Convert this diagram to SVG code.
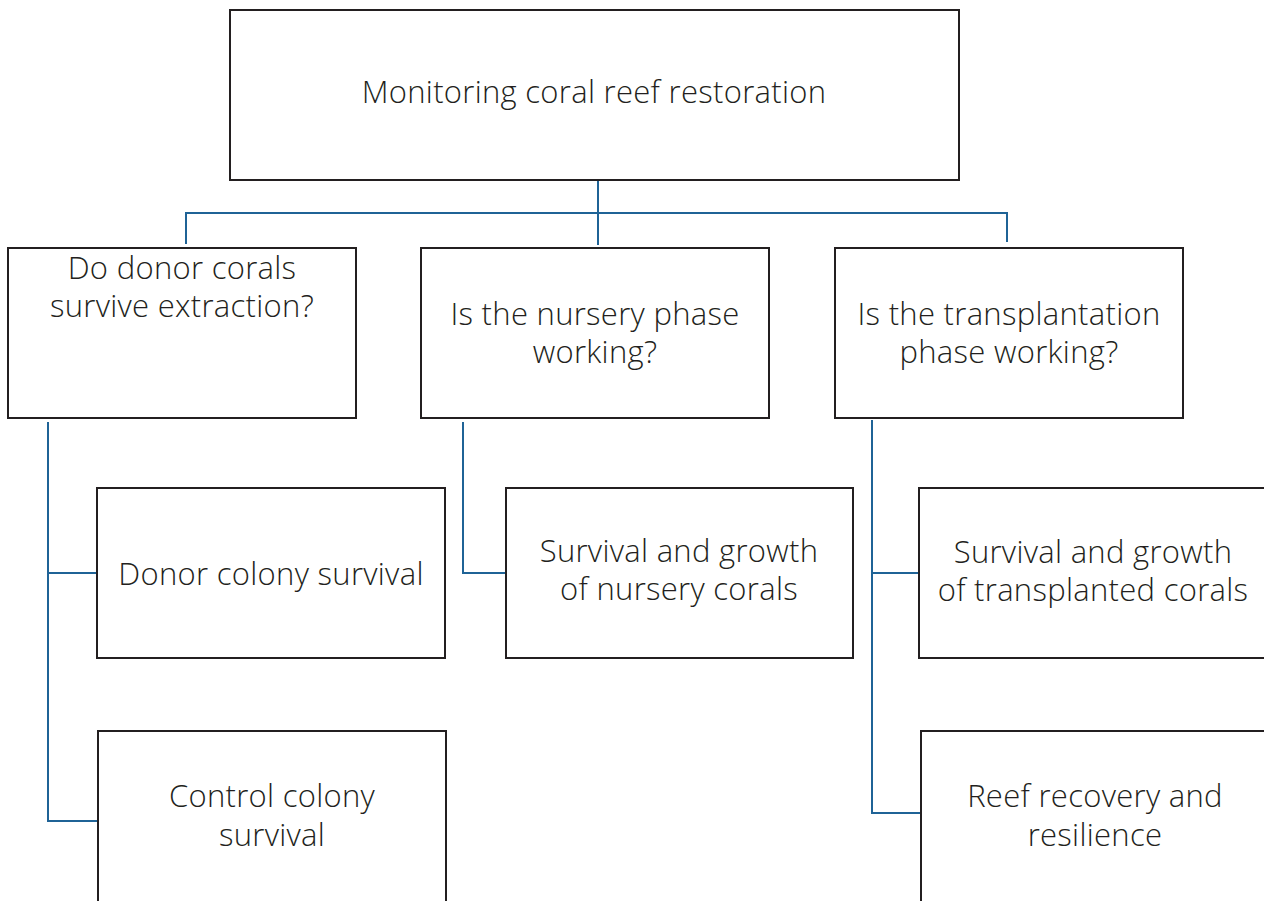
<svg xmlns="http://www.w3.org/2000/svg" width="1264" height="901" viewBox="0 0 1264 901">
<style>
.box{fill:#fff;stroke:#231f20;stroke-width:2}
.lbl{font-family:"Open Sans",Lato,"Liberation Sans",sans-serif;font-weight:300;font-size:31px;letter-spacing:0.3px;fill:#231f20;text-anchor:middle}
.con{fill:none;stroke:#1f6396;stroke-width:2}
</style>
<rect width="1264" height="901" fill="#fff"/>
<g id="connectors">
<path class="con" d="M598 180 V245"/>
<path class="con" d="M186 244 V213 H1007 V242"/>
<path class="con" d="M48 422 V821 H97 M48 573 H97"/>
<path class="con" d="M463 422 V573 H506"/>
<path class="con" d="M872 420 V813 H920 M872 573 H919"/>
</g>
<g id="root">
<rect class="box" x="230" y="10" width="729" height="170"/>
<text class="lbl" x="594" y="103">Monitoring coral reef restoration</text>
</g>
<g id="q1">
<rect class="box" x="8" y="248" width="348" height="170"/>
<text class="lbl" x="182" y="279">Do donor corals</text>
<text class="lbl" x="182" y="317">survive extraction?</text>
</g>
<g id="q2">
<rect class="box" x="421" y="248" width="348" height="170"/>
<text class="lbl" x="595" y="325">Is the nursery phase</text>
<text class="lbl" x="595" y="363">working?</text>
</g>
<g id="q3">
<rect class="box" x="835" y="248" width="348" height="170"/>
<text class="lbl" x="1009" y="325">Is the transplantation</text>
<text class="lbl" x="1009" y="363">phase working?</text>
</g>
<g id="donor">
<rect class="box" x="97" y="488" width="348" height="170"/>
<text class="lbl" x="271" y="585">Donor colony survival</text>
</g>
<g id="control">
<rect class="box" x="98" y="731" width="348" height="190"/>
<text class="lbl" x="272" y="807">Control colony</text>
<text class="lbl" x="272" y="846">survival</text>
</g>
<g id="nursery">
<rect class="box" x="506" y="488" width="347" height="170"/>
<text class="lbl" x="679" y="562">Survival and growth</text>
<text class="lbl" x="679" y="600">of nursery corals</text>
</g>
<g id="transplanted">
<rect class="box" x="919" y="488" width="348" height="170"/>
<text class="lbl" x="1093" y="563">Survival and growth</text>
<text class="lbl" x="1093" y="601">of transplanted corals</text>
</g>
<g id="reef">
<rect class="box" x="921" y="731" width="348" height="190"/>
<text class="lbl" x="1095" y="807">Reef recovery and</text>
<text class="lbl" x="1095" y="846">resilience</text>
</g>
</svg>
